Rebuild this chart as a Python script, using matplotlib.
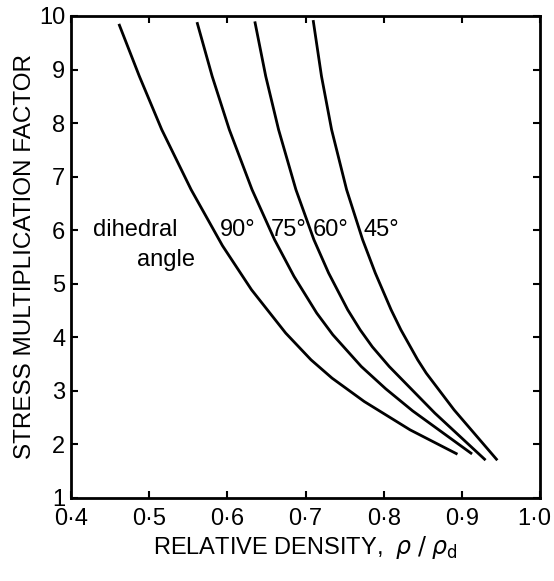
import numpy as np
import matplotlib
matplotlib.use('Agg')
import matplotlib.pyplot as plt
from matplotlib.transforms import ScaledTranslation

plt.rcParams['font.family'] = ['Liberation Sans', 'DejaVu Sans']

# values: relative density vs stress multiplication factor
x_90 = [0.4620, 0.4875, 0.5161, 0.5537, 0.5938, 0.6309, 0.6746, 0.7070, 0.7339, 0.7751, 0.8337, 0.8927]
y_90 = [9.828, 8.875, 7.879, 6.757, 5.710, 4.888, 4.079, 3.579, 3.237, 2.800, 2.271, 1.828]
x_75 = [0.5617, 0.5806, 0.6025, 0.6316, 0.6604, 0.6853, 0.7143, 0.7349, 0.7713, 0.8026, 0.8369, 0.9115]
y_75 = [9.860, 8.875, 7.879, 6.757, 5.822, 5.136, 4.452, 4.047, 3.454, 3.037, 2.626, 1.836]
x_60 = [0.6355, 0.6491, 0.6655, 0.6877, 0.7107, 0.7295, 0.7539, 0.7698, 0.7854, 0.8070, 0.8654, 0.9289]
y_60 = [9.873, 8.875, 7.879, 6.757, 5.822, 5.200, 4.514, 4.140, 3.822, 3.454, 2.583, 1.723]
x_45 = [0.7100, 0.7204, 0.7333, 0.7525, 0.7730, 0.7892, 0.8094, 0.8219, 0.8434, 0.8543, 0.8899, 0.9441]
y_45 = [9.897, 8.875, 7.879, 6.757, 5.822, 5.200, 4.514, 4.140, 3.579, 3.331, 2.645, 1.723]

angle_labels = ['90°', '75°', '60°', '45°']
label_x = [0.6137, 0.679, 0.7326, 0.7965]
label_y = 6.0

xticks = [0.4, 0.5, 0.6, 0.7, 0.8, 0.9, 1.0]
xticklabels = ['0·4', '0·5', '0·6', '0·7', '0·8', '0·9', '1·0']
yticks = [1, 2, 3, 4, 5, 6, 7, 8, 9, 10]

fig = plt.figure(figsize=(5.54, 5.81), dpi=100)
ax = fig.add_axes([0.128, 0.143, 0.847, 0.8295])

for xs, ys in [(x_90, y_90), (x_75, y_75), (x_60, y_60), (x_45, y_45)]:
    ax.plot(xs, ys, color='black', lw=2.0, solid_joinstyle='round')

for t, lx in zip(angle_labels, label_x):
    ax.text(lx, label_y, t, fontsize=17, ha='center', va='center')
ax.text(0.482, 6.0, 'dihedral', fontsize=17, ha='center', va='center')
ax.text(0.522, 5.45, 'angle', fontsize=17, ha='center', va='center')

ax.set_xlim(0.4, 1.0)
ax.set_ylim(1, 10)
ax.set_xticks(xticks)
ax.set_xticklabels(xticklabels)
ax.set_yticks(yticks)
ax.tick_params(direction='in', length=5, width=1.5, labelsize=17,
               top=True, right=True, pad=4)
ax.tick_params(axis='x', pad=7)
for s in ax.spines.values():
    s.set_linewidth(2)

# last x label sits at the figure edge, nudge it in a little
lab = ax.get_xticklabels()[-1]
lab.set_transform(lab.get_transform() + ScaledTranslation(-4 / 72, 0, fig.dpi_scale_trans))

ax.set_xlabel(r'RELATIVE DENSITY,  $\rho\;/\;\rho_{\rm d}$', fontsize=17, labelpad=3)
ax.set_ylabel('STRESS MULTIPLICATION FACTOR', fontsize=17.5, labelpad=2)

fig.savefig('out.png', dpi=100)
